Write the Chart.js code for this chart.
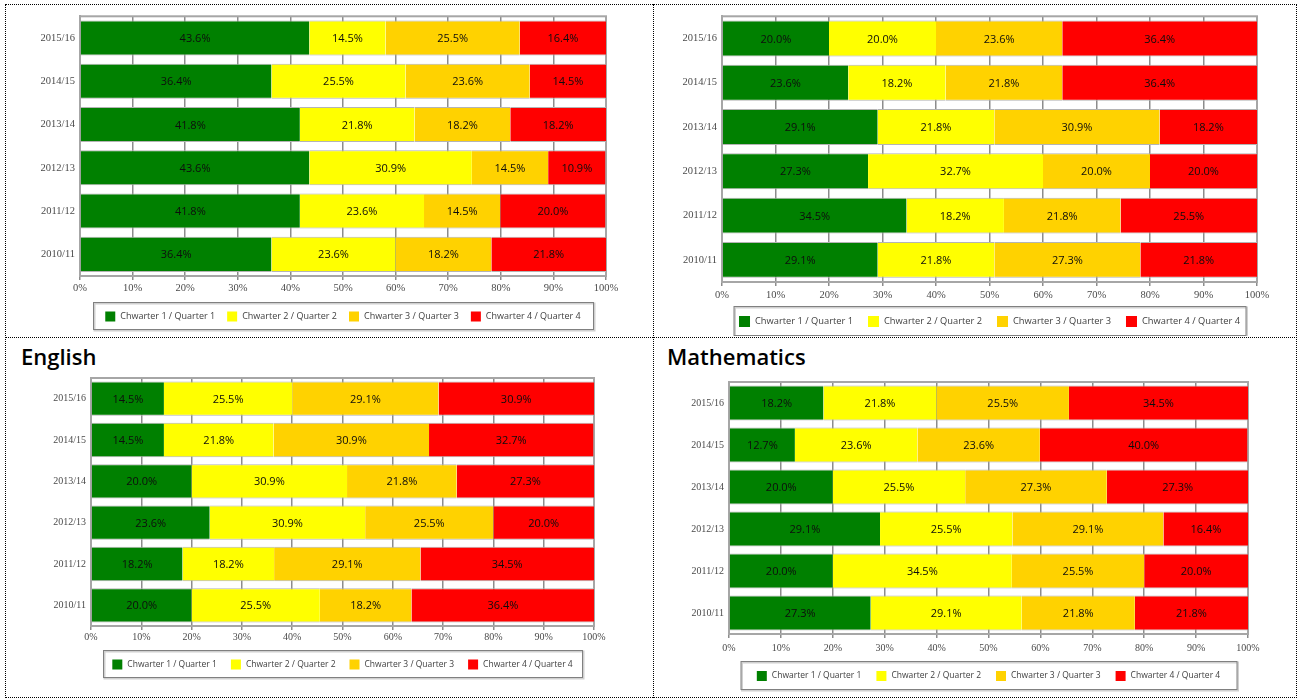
<!DOCTYPE html>
<html>
<head>
<meta charset="utf-8">
<script src="https://cdn.jsdelivr.net/npm/chart.js@4.4.0/dist/chart.umd.min.js"></script>
<style>
body { margin: 0; background: #fff; width: 1304px; height: 699px; position: relative; overflow: hidden; }
.frame { position: absolute; box-sizing: border-box; }
canvas { position: absolute; }
.title { position: absolute; font: 600 22px 'Open Sans', sans-serif; line-height: 22px; color: #000; }
</style>
</head>
<body>
<div class="frame" style="left:5px;top:4px;width:1292px;height:694px;border:1px dotted #000"></div>
<div class="frame" style="left:653px;top:4px;width:1px;height:694px;border-left:1px dotted #000"></div>
<div class="frame" style="left:5px;top:337px;width:1292px;height:1px;border-top:1px dotted #000"></div>
<div class="title" style="left:21px;top:345px">English</div>
<div class="title" style="left:667px;top:345px">Mathematics</div>
<canvas id="c1" width="646" height="331" style="left:6px;top:5px"></canvas>
<canvas id="c2" width="642" height="331" style="left:654px;top:5px"></canvas>
<canvas id="c3" width="646" height="358" style="left:6px;top:338px"></canvas>
<canvas id="c4" width="642" height="358" style="left:654px;top:338px"></canvas>
<script>
var years = ['2015/16', '2014/15', '2013/14', '2012/13', '2011/12', '2010/11']
var quarterNames = ['Chwarter 1 / Quarter 1', 'Chwarter 2 / Quarter 2', 'Chwarter 3 / Quarter 3', 'Chwarter 4 / Quarter 4']
var xTicks = [0, 10, 20, 30, 40, 50, 60, 70, 80, 90, 100]

// top left chart
var topLeftQ1 = [43.6, 36.4, 41.8, 43.6, 41.8, 36.4]
var topLeftQ2 = [14.5, 25.5, 21.8, 30.9, 23.6, 23.6]
var topLeftQ3 = [25.5, 23.6, 18.2, 14.5, 14.5, 18.2]
var topLeftQ4 = [16.4, 14.5, 18.2, 10.9, 20.0, 21.8]

// top right chart
var topRightQ1 = [20.0, 23.6, 29.1, 27.3, 34.5, 29.1]
var topRightQ2 = [20.0, 18.2, 21.8, 32.7, 18.2, 21.8]
var topRightQ3 = [23.6, 21.8, 30.9, 20.0, 21.8, 27.3]
var topRightQ4 = [36.4, 36.4, 18.2, 20.0, 25.5, 21.8]

// English
var englishQ1 = [14.5, 14.5, 20.0, 23.6, 18.2, 20.0]
var englishQ2 = [25.5, 21.8, 30.9, 30.9, 18.2, 25.5]
var englishQ3 = [29.1, 30.9, 21.8, 25.5, 29.1, 18.2]
var englishQ4 = [30.9, 32.7, 27.3, 20.0, 34.5, 36.4]

// Mathematics
var mathsQ1 = [18.2, 12.7, 20.0, 29.1, 20.0, 27.3]
var mathsQ2 = [21.8, 23.6, 25.5, 25.5, 34.5, 29.1]
var mathsQ3 = [25.5, 23.6, 27.3, 29.1, 25.5, 21.8]
var mathsQ4 = [34.5, 40.0, 27.3, 16.4, 20.0, 21.8]

var quarterColors = ['#008000', '#ffff00', '#ffd200', '#ff0000']

// labels in the middle of each bar segment
var barLabels = {
    id: 'barLabels',
    afterDatasetsDraw(chart, args, opts) {
        var ctx = chart.ctx
        ctx.save()
        ctx.font = opts.font
        ctx.fillStyle = '#0d0d0d'
        ctx.textAlign = 'center'
        ctx.textBaseline = 'middle'
        chart.data.datasets.forEach((ds, i) => {
            chart.getDatasetMeta(i).data.forEach((bar, j) => {
                var p = bar.getCenterPoint()
                ctx.fillText(ds.data[j].toFixed(1) + '%', p.x, p.y + 1)
            })
        })
        ctx.restore()
    }
}

// grey frame round the plot area
var plotFrame = {
    id: 'plotFrame',
    beforeDatasetsDraw(chart) {
        var a = chart.chartArea, ctx = chart.ctx
        ctx.save()
        ctx.strokeStyle = '#a6a6a6'
        ctx.lineWidth = 2
        ctx.strokeRect(a.left, a.top, a.right - a.left, a.bottom - a.top)
        ctx.restore()
    }
}

// boxed legend under the axis, like the spreadsheet one
var boxLegend = {
    id: 'boxLegend',
    afterDraw(chart, args, opts) {
        var ctx = chart.ctx, a = chart.chartArea
        var cx = (a.left + a.right) / 2
        var x0 = cx - opts.width / 2, y0 = a.bottom + opts.offset
        ctx.save()
        ctx.strokeStyle = '#d0d0d0'
        ctx.lineWidth = 2
        ctx.strokeRect(x0 + 1.5, y0 + 1.5, opts.width, opts.height)
        ctx.strokeStyle = '#808080'
        ctx.lineWidth = 1
        ctx.strokeRect(x0 + 0.5, y0 + 0.5, opts.width, opts.height)
        ctx.font = opts.font
        var items = chart.data.datasets.map(ds => ({
            text: ds.label,
            color: ds.backgroundColor,
            w: opts.box + 5 + ctx.measureText(ds.label).width
        }))
        var total = items.reduce((s, it) => s + it.w, 0) + opts.spacing * (items.length - 1)
        var x = cx - total / 2, y = y0 + opts.height / 2 + 1
        ctx.textBaseline = 'middle'
        items.forEach(it => {
            ctx.fillStyle = it.color
            ctx.fillRect(x, y - opts.box / 2, opts.box, opts.box)
            ctx.fillStyle = '#404040'
            ctx.fillText(it.text, x + opts.box + 5, y)
            x += it.w + opts.spacing
        })
        ctx.restore()
    }
}

function stackedChart(id, series, look) {
    var canvas = document.getElementById(id)
    var W = canvas.width, H = canvas.height
    var a = look.area
    new Chart(canvas, {
        type: 'bar',
        data: {
            labels: years,
            datasets: series.map((values, i) => ({
                label: quarterNames[i],
                data: values,
                backgroundColor: quarterColors[i],
                borderColor: '#b4b4b4',
                borderWidth: { top: 1, bottom: 1, left: 0, right: 0 },
                borderSkipped: false,
                barPercentage: look.bar,
                categoryPercentage: 1
            }))
        },
        options: {
            indexAxis: 'y',
            responsive: false,
            animation: false,
            devicePixelRatio: 1,
            layout: {
                padding: { left: 0, top: a[1], right: W - a[2], bottom: H - a[3] - 22 }
            },
            plugins: {
                legend: { display: false },
                tooltip: { enabled: false },
                barLabels: { font: look.barFont },
                boxLegend: look.legend
            },
            scales: {
                x: {
                    stacked: true,
                    min: 0,
                    max: 100,
                    afterBuildTicks: s => { s.ticks = xTicks.map(v => ({ value: v })) },
                    afterFit: s => { s.height = 22 },
                    ticks: {
                        callback: v => v + '%',
                        font: { family: 'Liberation Serif', size: look.tickSize },
                        color: '#4a4a4a',
                        padding: look.xPad,
                        maxRotation: 0
                    },
                    grid: { color: '#8c8c8c', lineWidth: 1.5, tickLength: 4 },
                    border: { color: '#8c8c8c', width: 2 }
                },
                y: {
                    stacked: true,
                    afterFit: s => { s.width = a[0] },
                    ticks: {
                        font: { family: 'Liberation Serif', size: look.tickSize },
                        color: '#4a4a4a',
                        padding: 5
                    },
                    grid: { display: false, drawTicks: false },
                    border: { color: '#a6a6a6', width: 2 }
                }
            }
        },
        plugins: [plotFrame, barLabels, boxLegend]
    })
}

stackedChart('c1', [topLeftQ1, topLeftQ2, topLeftQ3, topLeftQ4], {
    area: [74, 11, 600, 271], bar: 0.81, barFont: '11px "Open Sans"', tickSize: 10.5, xPad: 2,
    legend: { width: 500, height: 27, offset: 26, box: 10, spacing: 12, font: '9px "Open Sans"' }
})
stackedChart('c2', [topRightQ1, topRightQ2, topRightQ3, topRightQ4], {
    area: [68, 10, 603, 277], bar: 0.81, barFont: '11px "Open Sans"', tickSize: 10.5, xPad: 3,
    legend: { width: 512, height: 29, offset: 24, box: 11, spacing: 15, font: '9.3px "Open Sans"' }
})
stackedChart('c3', [englishQ1, englishQ2, englishQ3, englishQ4], {
    area: [85, 40, 588, 288], bar: 0.83, barFont: '11px "Open Sans"', tickSize: 10, xPad: 1,
    legend: { width: 479, height: 27, offset: 24, box: 10, spacing: 14, font: '8.5px "Open Sans"' }
})
stackedChart('c4', [mathsQ1, mathsQ2, mathsQ3, mathsQ4], {
    area: [75, 44, 594, 296], bar: 0.83, barFont: '11px "Open Sans"', tickSize: 10, xPad: 4,
    legend: { width: 496, height: 28, offset: 27, box: 10, spacing: 15, font: '8.5px "Open Sans"' }
})
</script>
</body>
</html>
